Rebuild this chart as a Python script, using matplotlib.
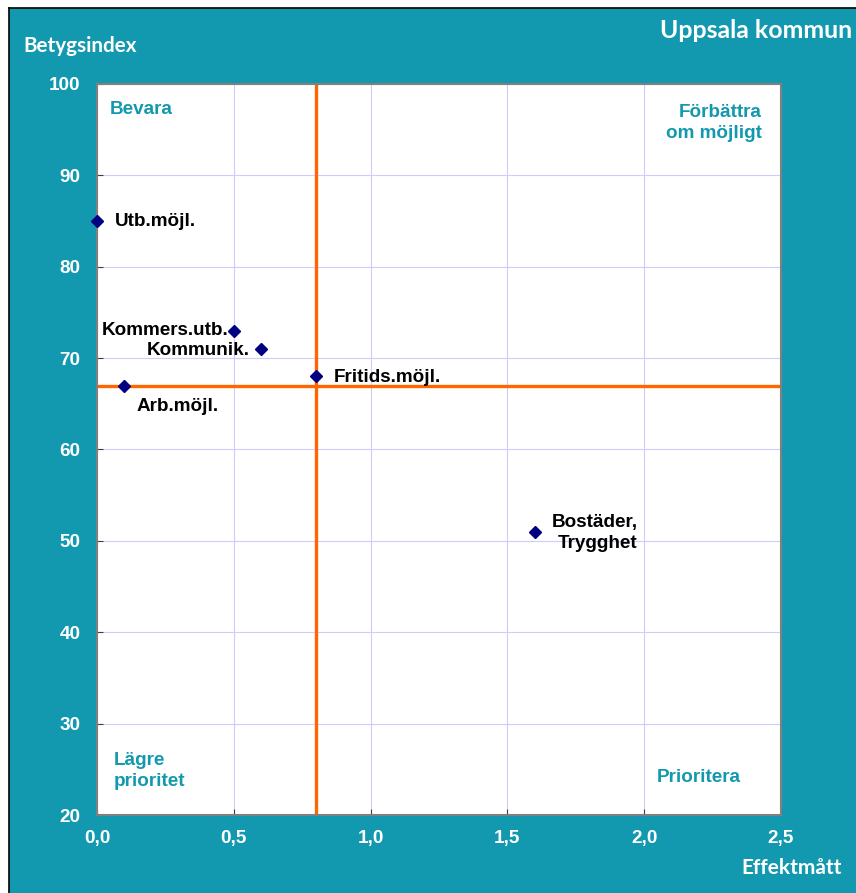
import matplotlib.pyplot as plt
from matplotlib.patches import Rectangle
from matplotlib.lines import Line2D
from matplotlib.ticker import FuncFormatter, MultipleLocator

# data
labels = ["Utb.möjl.", "Kommers.utb.", "Kommunik.", "Fritids.möjl.", "Arb.möjl.", "Bostäder,\nTrygghet"]
effekt = [0.0, 0.5, 0.6, 0.8, 0.1, 1.6]
betyg = [85, 73, 71, 68, 67, 51]
mean_x = 0.8
mean_y = 67

teal = "#1399af"
orange = "#ff6600"
W, H = 856, 893
fs = 13.6

plt.rcParams["font.family"] = ["Liberation Sans", "DejaVu Sans"]
fig = plt.figure(figsize=(W / 100, H / 100), dpi=100, facecolor="white")

# teal frame with thin black edge on left/top
fig.patches.append(Rectangle((9 / W, 0), 1, (H - 8) / H, transform=fig.transFigure,
                             facecolor=teal, edgecolor="none", zorder=-10))
fig.lines.append(Line2D([8.5 / W, 8.5 / W], [0, (H - 7.5) / H], transform=fig.transFigure,
                        color="black", lw=1.2, zorder=-5))
fig.lines.append(Line2D([8.5 / W, 1], [(H - 7.5) / H, (H - 7.5) / H], transform=fig.transFigure,
                        color="black", lw=1.2, zorder=-5))

ax = fig.add_axes([97 / W, (H - 815) / H, (781 - 97) / W, (815 - 84) / H])
ax.set_facecolor("white")
ax.set_xlim(0, 2.5)
ax.set_ylim(20, 100)
ax.xaxis.set_major_locator(MultipleLocator(0.5))
ax.yaxis.set_major_locator(MultipleLocator(10))
ax.xaxis.set_major_formatter(FuncFormatter(lambda v, p: f"{v:.1f}".replace(".", ",")))
ax.grid(True, color="#ccccff", lw=0.8)
ax.set_axisbelow(True)
for s in ax.spines.values():
    s.set_color("#808080")
    s.set_linewidth(1.5)
ax.tick_params(direction="in", length=4, color="#404040", labelcolor="white", labelsize=fs)
for t in ax.get_xticklabels() + ax.get_yticklabels():
    t.set_fontweight("bold")
ax.tick_params(axis="x", pad=11)
ax.tick_params(axis="y", pad=12)

ax.axvline(mean_x, color=orange, lw=2.4, zorder=2)
ax.axhline(mean_y, color=orange, lw=2.4, zorder=2)

ax.plot(effekt, betyg, "D", color="#000080", ms=6.5, zorder=3, clip_on=False)

offsets = [(13, 0, "left"), (-4, 0, "right"), (-8, -1, "right"), (13, -1, "left"), (9, -15, "left"), (12, -1, "right")]
for lab, x, y, (dx, dy, ha) in zip(labels, effekt, betyg, offsets):
    if "\n" in lab:
        ax.annotate(lab, (x, y), xytext=(dx, dy), textcoords="offset points",
                    ha="left", va="center", multialignment="right",
                    fontsize=fs, fontweight="bold", color="black", linespacing=1.35)
    else:
        ax.annotate(lab, (x, y), xytext=(dx, dy), textcoords="offset points",
                    ha=ha, va="center", fontsize=fs, fontweight="bold", color="black")

qk = dict(transform=ax.transAxes, color=teal, fontsize=fs, fontweight="bold")
ax.text(13 / 684, 1 - 25 / 731, "Bevara", ha="left", va="center", **qk)
ax.text(1 - 19 / 684, 1 - 39 / 731, "Förbättra\nom möjligt", ha="right", va="center",
        multialignment="right", linespacing=1.32, **qk)
ax.text(17 / 684, 44 / 731, "Lägre\nprioritet", ha="left", va="center", linespacing=1.32, **qk)
ax.text(1 - 40 / 684, 38 / 731, "Prioritera", ha="right", va="center", **qk)

tk = dict(color="white", fontweight="bold", family=["Lato", "DejaVu Sans"])
fig.text(852 / W, 1 - 31 / H, "Uppsala kommun", ha="right", va="center", fontsize=17.9, **tk)
fig.text(23 / W, 1 - 46 / H, "Betygsindex", ha="left", va="center", fontsize=14.9, **tk)
fig.text(842 / W, 1 - 868 / H, "Effektmått", ha="right", va="center", fontsize=15, **tk)

fig.savefig("out.png", dpi=100, facecolor="white")
